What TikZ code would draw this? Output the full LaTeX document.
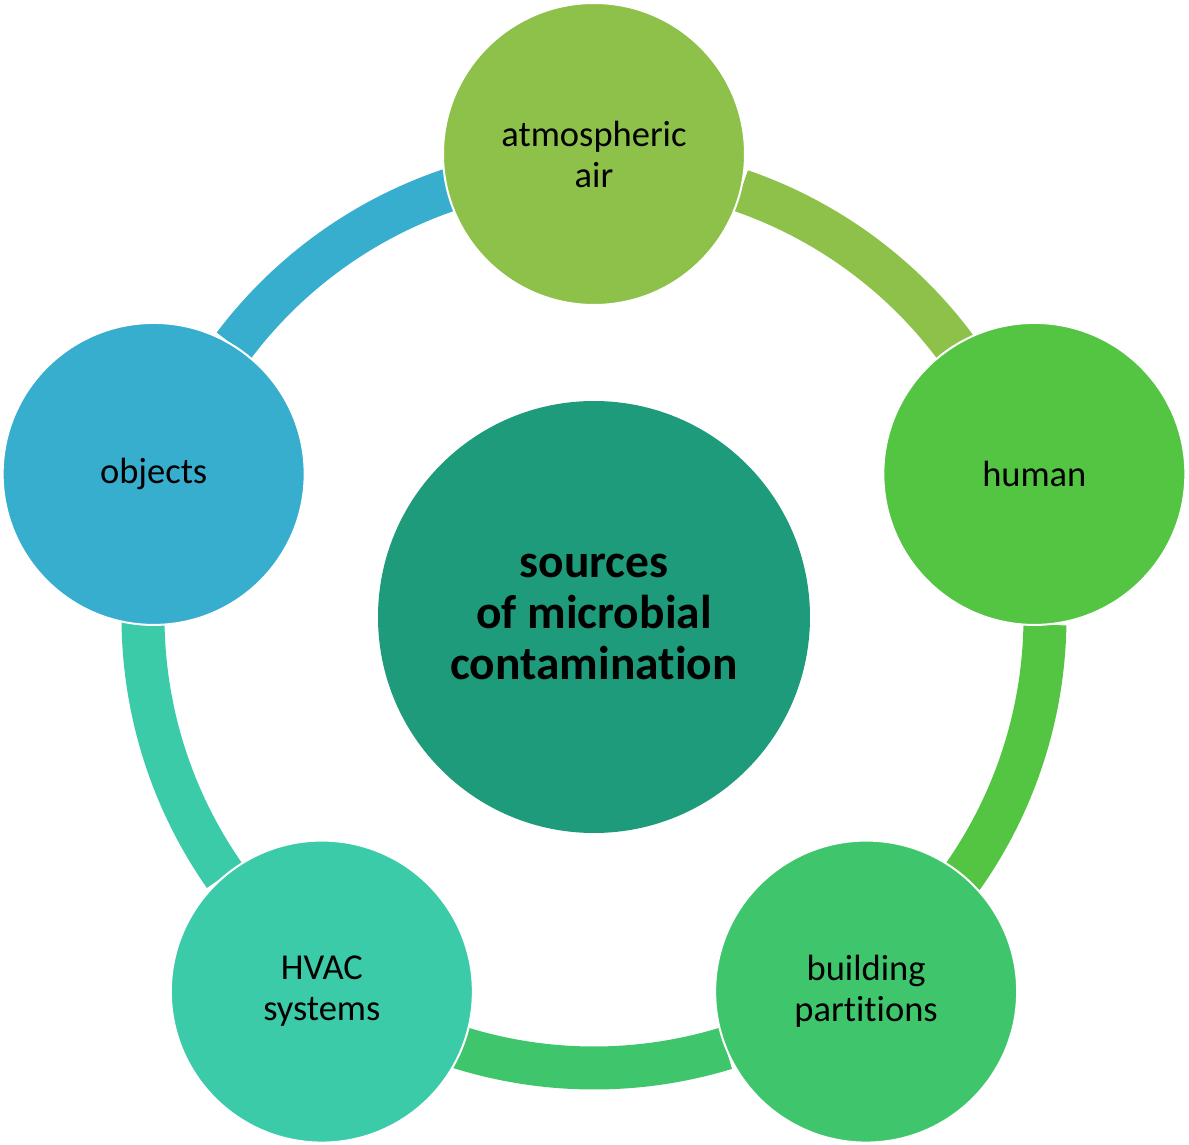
\documentclass[tikz,border=0pt]{standalone}
\usepackage{fontspec}
\setmainfont[Ligatures={NoCommon}]{Carlito}
\usepackage{tikz}
\usetikzlibrary{calc}

\definecolor{airgreen}{RGB}{141,193,74}
\definecolor{humangreen}{RGB}{84,196,67}
\definecolor{wallgreen}{RGB}{63,198,108}
\definecolor{hvacteal}{RGB}{60,203,168}
\definecolor{objblue}{RGB}{56,174,207}
\definecolor{coregreen}{RGB}{30,155,122}

\tikzset{
	src/.style={circle,minimum size=302,inner sep=0pt,draw=white,line width=2,align=center,
		font=\fontsize{36.5}{41}\selectfont},
	core/.style={circle,minimum size=432,inner sep=0pt,fill=coregreen,align=center,
		font=\bfseries\fontsize{47.5}{51}\selectfont},
	band/.style={line width=43}
}

\begin{document}
\begin{tikzpicture}[x=1pt,y=1pt]
	\useasboundingbox (-594,-527) rectangle (595,617);
	% ring pieces, each one in the colour of the circle it leaves
	\foreach \a/\col in {90/airgreen,18/humangreen,-54/wallgreen,-126/hvacteal,162/objblue}
		\draw[band,\col] (\a-19:451) arc[start angle=\a-19,end angle=\a-64,radius=451];
	% the five sources
	\foreach \a/\col/\nm/\txt in {90/airgreen/air/{atmospheric\\air},18/humangreen/human/{human},
		-54/wallgreen/partitions/{building\\partitions},-126/hvacteal/hvac/{HVAC\\systems},
		162/objblue/objects/{objects}}
		\node[src,fill=\col] (\nm) at (\a:463) {\txt};
	\node[core] (core) at (0,0) {sources\\of microbial\\contamination};
\end{tikzpicture}
\end{document}
